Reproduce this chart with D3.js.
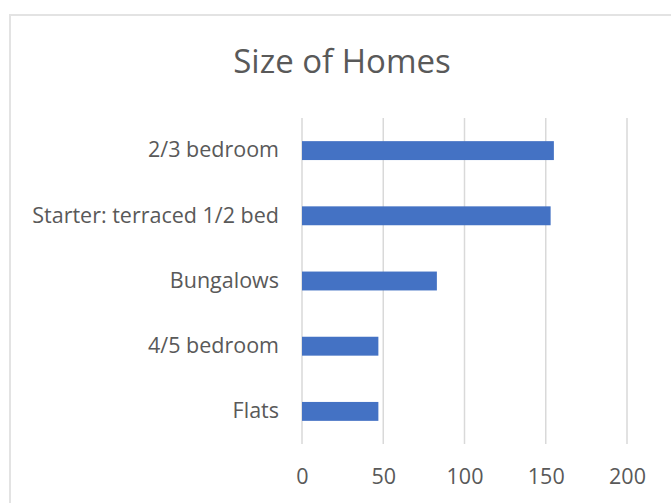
<!DOCTYPE html>
<html>
<head>
<meta charset="utf-8">
<script src="https://cdn.jsdelivr.net/npm/d3@7"></script>
<style>
  html, body { margin: 0; padding: 0; background: #fff; }
  svg { display: block; font-family: "Open Sans", "Lato", sans-serif; }
</style>
</head>
<body>
<svg id="chart"></svg>
<script>
const categories = ["2/3 bedroom", "Starter: terraced 1/2 bed", "Bungalows", "4/5 bedroom", "Flats"];
const values = [155, 153, 83, 47, 47];
const xTicks = [0, 50, 100, 150, 200];

const width = 671;
const height = 503;
const margin = { top: 118, right: 44, bottom: 59, left: 302 };

const svg = d3.select("#chart")
    .attr("width", width)
    .attr("height", height);

// chart area frame
svg.append("rect")
    .attr("x", 10)
    .attr("y", 15)
    .attr("width", width + 10)
    .attr("height", height + 10)
    .attr("fill", "#fff")
    .attr("stroke", "#e3e3e3")
    .attr("stroke-width", 2);

svg.append("text")
    .attr("x", 342)
    .attr("y", 73)
    .attr("text-anchor", "middle")
    .attr("fill", "#595959")
    .attr("font-size", 33)
    .text("Size of Homes");

const x = d3.scaleLinear()
    .domain([0, 200])
    .range([margin.left, 627]);

const y = d3.scaleBand()
    .domain(categories)
    .range([margin.top, height - margin.bottom])
    .paddingInner(0.71)
    .paddingOuter(0.355);

// gridlines
svg.append("g")
    .selectAll("line")
    .data(xTicks)
    .enter().append("line")
    .attr("x1", d => x(d))
    .attr("x2", d => x(d))
    .attr("y1", margin.top)
    .attr("y2", height - margin.bottom)
    .attr("stroke", "#d9d9d9")
    .attr("stroke-width", 1.5);

svg.append("g")
    .selectAll("rect")
    .data(categories)
    .enter().append("rect")
    .attr("x", x(0))
    .attr("y", d => y(d))
    .attr("width", (d, i) => x(values[i]) - x(0))
    .attr("height", y.bandwidth())
    .attr("fill", "#4472c4");

// x axis labels
const xAxis = svg.append("g")
    .attr("transform", `translate(0,${height - margin.bottom})`)
    .call(d3.axisBottom(x).tickValues(xTicks).tickSize(0).tickPadding(25));
xAxis.select(".domain").remove();
xAxis.selectAll("text")
    .attr("fill", "#595959")
    .attr("font-size", 21.5)
    .attr("font-family", "Open Sans, Lato, sans-serif");

// category labels
const yAxis = svg.append("g")
    .attr("transform", `translate(${margin.left},0)`)
    .call(d3.axisLeft(y).tickSize(0).tickPadding(23));
yAxis.select(".domain").remove();
yAxis.selectAll("text")
    .attr("fill", "#595959")
    .attr("font-size", 21.5)
    .attr("font-family", "Open Sans, Lato, sans-serif");
</script>
</body>
</html>
